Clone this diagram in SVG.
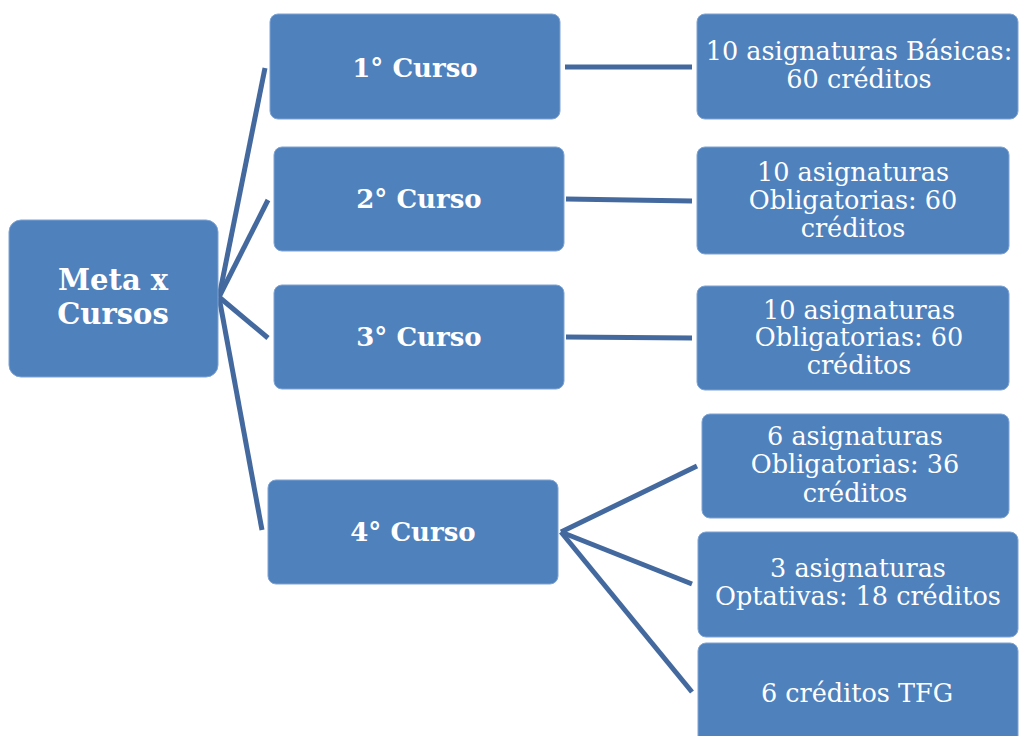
<svg xmlns="http://www.w3.org/2000/svg" width="1019" height="736" viewBox="0 0 1019 736">
<style>
.box{fill:#4f81bd;stroke:#7ea3d3;stroke-width:1}
.lbl{font-family:"DejaVu Serif","Liberation Serif",serif;font-weight:bold;fill:#ffffff;text-anchor:middle}
.txt{font-family:"DejaVu Serif","Liberation Serif",serif;font-size:25.5px;fill:#ffffff;text-anchor:middle}
.con{stroke:#43699f;stroke-width:5;fill:none}
</style>
<rect width="1019" height="736" fill="#ffffff"/>
<g id="connectors">
<line class="con" x1="219" y1="297" x2="265" y2="68"/>
<line class="con" x1="219" y1="297" x2="268" y2="200"/>
<line class="con" x1="219" y1="297" x2="268" y2="338"/>
<line class="con" x1="219" y1="297" x2="262" y2="530"/>
<line class="con" x1="565" y1="67" x2="692" y2="67"/>
<line class="con" x1="566" y1="199" x2="692" y2="201"/>
<line class="con" x1="566" y1="337" x2="692" y2="338"/>
<line class="con" x1="561" y1="532" x2="697" y2="466"/>
<line class="con" x1="561" y1="532" x2="692" y2="584"/>
<line class="con" x1="561" y1="532" x2="692" y2="692"/>
</g>
<g id="root">
<rect class="box" x="9" y="220" width="209" height="157" rx="12"/>
<text class="lbl" x="113" y="290" font-size="29">Meta x</text>
<text class="lbl" x="113" y="324" font-size="29">Cursos</text>
</g>
<g id="c1">
<rect class="box" x="270" y="14" width="290" height="105" rx="8"/>
<text class="lbl" x="415" y="77" font-size="26">1° Curso</text>
</g>
<g id="c2">
<rect class="box" x="274" y="147" width="290" height="104" rx="8"/>
<text class="lbl" x="419" y="208" font-size="26">2° Curso</text>
</g>
<g id="c3">
<rect class="box" x="274" y="285" width="290" height="104" rx="8"/>
<text class="lbl" x="419" y="346" font-size="26">3° Curso</text>
</g>
<g id="c4">
<rect class="box" x="268" y="480" width="290" height="104" rx="8"/>
<text class="lbl" x="413" y="541" font-size="26">4° Curso</text>
</g>
<g id="a">
<rect class="box" x="697" y="14" width="321" height="105" rx="8"/>
<text class="txt" x="859" y="60">10 asignaturas Básicas:</text>
<text class="txt" x="859" y="88">60 créditos</text>
</g>
<g id="b">
<rect class="box" x="697" y="147" width="312" height="107" rx="8"/>
<text class="txt" x="853" y="181">10 asignaturas</text>
<text class="txt" x="853" y="209">Obligatorias: 60</text>
<text class="txt" x="853" y="237">créditos</text>
</g>
<g id="c">
<rect class="box" x="697" y="286" width="312" height="104" rx="8"/>
<text class="txt" x="859" y="319">10 asignaturas</text>
<text class="txt" x="859" y="346">Obligatorias: 60</text>
<text class="txt" x="859" y="374">créditos</text>
</g>
<g id="d">
<rect class="box" x="702" y="414" width="307" height="104" rx="8"/>
<text class="txt" x="855" y="445">6 asignaturas</text>
<text class="txt" x="855" y="473">Obligatorias: 36</text>
<text class="txt" x="855" y="502">créditos</text>
</g>
<g id="e">
<rect class="box" x="698" y="532" width="320" height="105" rx="8"/>
<text class="txt" x="858" y="577">3 asignaturas</text>
<text class="txt" x="858" y="605">Optativas: 18 créditos</text>
</g>
<g id="f">
<rect class="box" x="698" y="643" width="320" height="105" rx="8"/>
<text class="txt" x="857" y="702">6 créditos TFG</text>
</g>
</svg>
